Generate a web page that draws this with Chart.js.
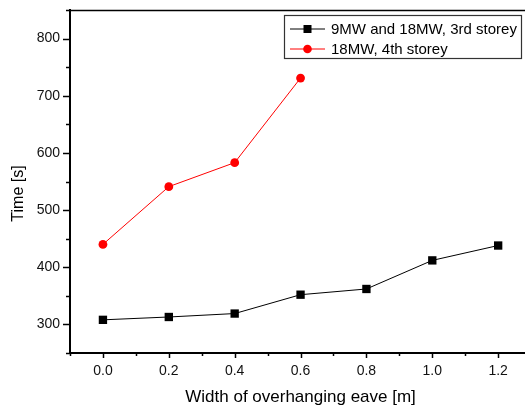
<!DOCTYPE html>
<html>
<head>
<meta charset="utf-8">
<script src="https://cdn.jsdelivr.net/npm/chart.js@4"></script>
<style>
html, body { margin: 0; padding: 0; background: #fff; overflow: hidden; }
canvas { display: block; }
</style>
</head>
<body>
<canvas id="eave" width="537" height="410"></canvas>
<script>
// eave width [m] and times [s]
var widths = [0.0, 0.2, 0.4, 0.6, 0.8, 1.0, 1.2];
var thirdStorey = [308, 313, 319, 352, 362, 412, 438];
var fourthStorey = [440, 541, 583, 731];
var seriesNames = ['9MW and 18MW, 3rd storey', '18MW, 4th storey'];
var xTicks = [0.0, 0.2, 0.4, 0.6, 0.8, 1.0, 1.2];
var yTicks = [300, 400, 500, 600, 700, 800];

var FONT = "'Liberation Sans', Arial, sans-serif";

function toPoints(ys) {
    return ys.map(function (y, i) { return { x: widths[i], y: y }; });
}

// minor/major tick marks, top frame line, y title and legend box
var framePlugin = {
    id: 'frame',
    afterDraw: function (c) {
        var ctx = c.ctx, a = c.chartArea, xs = c.scales.x, ys = c.scales.y;
        ctx.save();
        ctx.strokeStyle = '#000';
        ctx.lineWidth = 1.5;
        // y ticks every 50
        for (var v = 250; v <= 850; v += 50) {
            var py = Math.round(ys.getPixelForValue(v)) + 0.5;
            var len = (v % 100 === 0) ? 7 : 4;
            ctx.beginPath(); ctx.moveTo(a.left - len, py); ctx.lineTo(a.left, py); ctx.stroke();
        }
        // x ticks every 0.1
        for (var k = -1; k <= 13; k++) {
            var px = Math.round(xs.getPixelForValue(k / 10)) + 0.5;
            var l = (k % 2 === 0) ? 5 : 3;
            ctx.beginPath(); ctx.moveTo(px, a.bottom); ctx.lineTo(px, a.bottom + l); ctx.stroke();
        }
        // top frame
        ctx.lineWidth = 1.3;
        ctx.beginPath(); ctx.moveTo(a.left, a.top + 0.5); ctx.lineTo(a.right, a.top + 0.5); ctx.stroke();

        // y axis title
        ctx.fillStyle = '#000';
        ctx.font = '16px ' + FONT;
        ctx.textAlign = 'center';
        ctx.textBaseline = 'middle';
        ctx.translate(19, (a.top + a.bottom) / 2 + 12);
        ctx.rotate(-Math.PI / 2);
        ctx.fillText('Time [s]', 0, 0);
        ctx.setTransform(1, 0, 0, 1, 0, 0);

        // legend, anchored to the visible right edge
        var bx = 284, by = a.top + 5, bw = 237, bh = 43;
        ctx.fillStyle = '#fff';
        ctx.fillRect(bx, by, bw, bh);
        ctx.strokeStyle = '#333';
        ctx.lineWidth = 1.2;
        ctx.strokeRect(bx + 0.5, by + 0.5, bw, bh);
        ctx.font = '15px ' + FONT;
        ctx.textAlign = 'left';
        c.data.datasets.forEach(function (ds, i) {
            var cy = by + 14 + i * 20;
            ctx.strokeStyle = ds.borderColor;
            ctx.lineWidth = 1;
            ctx.beginPath(); ctx.moveTo(bx + 6, cy); ctx.lineTo(bx + 41, cy); ctx.stroke();
            ctx.fillStyle = ds.pointBackgroundColor;
            if (ds.pointStyle === 'rect') {
                ctx.fillRect(bx + 19.5, cy - 4, 8, 8);
            } else {
                ctx.beginPath(); ctx.arc(bx + 23.5, cy, 4.3, 0, Math.PI * 2); ctx.fill();
            }
            ctx.fillStyle = '#000';
            ctx.fillText(ds.label, bx + 47, cy + 1);
        });
        ctx.restore();
    }
};

new Chart(document.getElementById('eave').getContext('2d'), {
    type: 'line',
    data: {
        datasets: [
            {
                label: seriesNames[0],
                data: toPoints(thirdStorey),
                borderColor: '#000',
                borderWidth: 1,
                pointStyle: 'rect',
                pointRadius: 5.9,
                pointBackgroundColor: '#000',
                pointBorderColor: '#000',
                pointBorderWidth: 0
            },
            {
                label: seriesNames[1],
                data: toPoints(fourthStorey),
                borderColor: '#ff0000',
                borderWidth: 1,
                pointStyle: 'circle',
                pointRadius: 4.4,
                pointBackgroundColor: '#ff0000',
                pointBorderColor: '#ff0000',
                pointBorderWidth: 0
            }
        ]
    },
    options: {
        responsive: false,
        animation: false,
        layout: { padding: { top: 10, right: 1, left: 0, bottom: 0 } },
        plugins: {
            legend: { display: false },
            tooltip: { enabled: false }
        },
        scales: {
            x: {
                type: 'linear',
                min: -0.1,
                max: 1.3,
                afterBuildTicks: function (s) { s.ticks = xTicks.map(function (v) { return { value: v }; }); },
                afterFit: function (s) { s.height = 57; s.paddingLeft = 0; s.paddingRight = 0; },
                grid: { display: false, drawTicks: false },
                border: { display: true, color: '#000', width: 2 },
                ticks: {
                    color: '#111',
                    font: { family: FONT, size: 14 },
                    padding: 10,
                    maxRotation: 0,
                    callback: function (v) { return Number(v).toFixed(1); }
                },
                title: {
                    display: true,
                    text: 'Width of overhanging eave [m]',
                    color: '#000',
                    font: { family: FONT, size: 17 },
                    padding: { top: 0, bottom: 2 }
                }
            },
            y: {
                min: 250,
                max: 850,
                afterBuildTicks: function (s) { s.ticks = yTicks.map(function (v) { return { value: v }; }); },
                afterFit: function (s) { s.width = 70; s.paddingTop = 0; s.paddingBottom = 0; },
                grid: { display: false, drawTicks: false },
                border: { display: true, color: '#000', width: 2 },
                ticks: {
                    color: '#111',
                    font: { family: FONT, size: 14 },
                    padding: 10
                }
            }
        }
    },
    plugins: [framePlugin]
});
</script>
</body>
</html>
